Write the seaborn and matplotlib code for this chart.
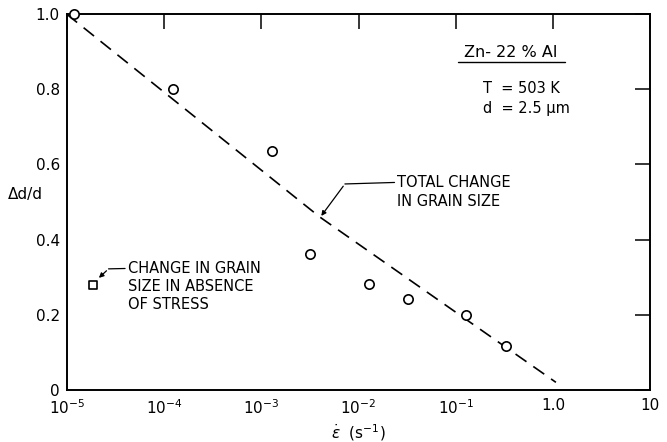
import numpy as np
import pandas as pd
import matplotlib
matplotlib.use("Agg")
import matplotlib.pyplot as plt
import seaborn as sns

# data
strain_rate = [1.2e-5, 1.23e-4, 1.29e-3, 3.2e-3, 1.29e-2, 3.2e-2, 1.26e-1, 3.3e-1]
dd_over_d = [1.0, 0.80, 0.636, 0.362, 0.282, 0.242, 0.198, 0.116]
static_rate = [1.85e-5]
static_dd = [0.28]
fit_rate = [1e-5, 4.0e-3, 1.07]
fit_dd = [1.0, 0.46, 0.02]

x_ticks = [1e-5, 1e-4, 1e-3, 1e-2, 1e-1, 1.0, 10.0]
x_ticklabels = [r"$10^{-5}$", r"$10^{-4}$", r"$10^{-3}$", r"$10^{-2}$", r"$10^{-1}$", "1.0", "10"]
y_ticks = [0, 0.2, 0.4, 0.6, 0.8, 1.0]
y_ticklabels = ["0", "0.2", "0.4", "0.6", "0.8", "1.0"]

sns.set_theme(style="white")
plt.rcParams["font.family"] = ["DejaVu Sans"]
plt.rcParams["mathtext.fontset"] = "dejavusans"
plt.rcParams["text.color"] = "black"
plt.rcParams["axes.labelcolor"] = "black"
plt.rcParams["xtick.color"] = "black"
plt.rcParams["ytick.color"] = "black"

fig = plt.figure(figsize=(6.67, 4.42), dpi=100)
ax = fig.add_axes([0.1, 0.118, 0.875, 0.85])

df_pts = pd.DataFrame({"rate": strain_rate, "dd": dd_over_d})
df_fit = pd.DataFrame({"rate": fit_rate, "dd": fit_dd})
df_sq = pd.DataFrame({"rate": static_rate, "dd": static_dd})

sns.lineplot(data=df_fit, x="rate", y="dd", ax=ax, color="black", lw=1.2,
             dashes=False, linestyle=(0, (8, 5)), zorder=2)
sns.scatterplot(data=df_pts, x="rate", y="dd", ax=ax, marker="o", s=45,
                facecolor="white", edgecolor="black", linewidth=1.2, zorder=3, clip_on=False)
sns.scatterplot(data=df_sq, x="rate", y="dd", ax=ax, marker="s", s=35,
                facecolor="white", edgecolor="black", linewidth=1.2, zorder=3)

ax.set_xscale("log")
ax.set_xlim(1e-5, 10)
ax.set_ylim(0, 1.0)
ax.set_xticks(x_ticks)
ax.set_xticklabels(x_ticklabels)
ax.set_yticks(y_ticks)
ax.set_yticklabels(y_ticklabels)
ax.minorticks_off()
ax.tick_params(axis="both", which="major", direction="in", length=11, width=1.1,
               colors="black", labelsize=11, top=True, right=True, pad=5)
ax.tick_params(axis="x", pad=6)
for sp in ax.spines.values():
    sp.set_visible(True)
    sp.set_color("black")
    sp.set_linewidth(1.4)

ax.set_xlabel(r"$\dot{\varepsilon}$  (s$^{-1}$)", fontsize=11, labelpad=4, color="black")
ax.set_ylabel("Δd/d", fontsize=11, rotation=0, labelpad=18, color="black")
ax.yaxis.set_label_coords(-0.07, 0.5)

# annotations
ax.annotate("", xy=(10**-2.40, 0.457), xytext=(10**-2.14, 0.548),
            arrowprops=dict(arrowstyle="-|>", color="black", lw=0.9, mutation_scale=7))
ax.plot([10**-2.14, 10**-1.63], [0.548, 0.552], color="black", lw=0.9)
ax.text(10**-1.60, 0.527, "TOTAL CHANGE\nIN GRAIN SIZE", fontsize=10.5,
        va="center", ha="left", linespacing=1.3, color="black")

ax.annotate("", xy=(10**-4.69, 0.293), xytext=(10**-4.57, 0.322),
            arrowprops=dict(arrowstyle="-|>", color="black", lw=0.9, mutation_scale=7))
ax.plot([10**-4.57, 10**-4.40], [0.322, 0.323], color="black", lw=0.9)
ax.text(10**-4.37, 0.274, "CHANGE IN GRAIN\nSIZE IN ABSENCE\nOF STRESS", fontsize=10.5,
        va="center", ha="left", linespacing=1.25, color="black")

ax.text(10**-0.44, 0.899, "Zn- 22 % Al", fontsize=11.5, ha="center", va="center", color="black")
ax.plot([10**-0.98, 10**0.12], [0.873, 0.873], color="black", lw=1.0)
ax.text(10**-0.72, 0.803, "T  = 503 K", fontsize=10.5, ha="left", va="center", color="black")
ax.text(10**-0.72, 0.750, "d  = 2.5 μm", fontsize=10.5, ha="left", va="center", color="black")

fig.savefig("out.png", dpi=100)
